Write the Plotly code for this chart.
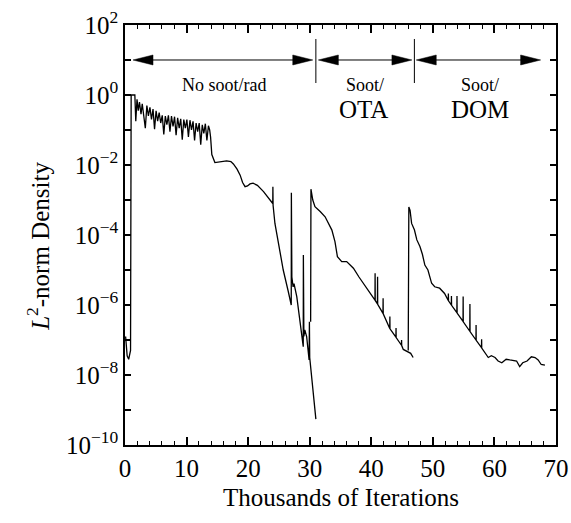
import plotly.graph_objects as go

# ---- data (x in thousands of iterations, y as log10 of L2-norm density) ----
noSootX = [0.1, 0.35, 0.6, 0.9, 1.0, 1.6,
           1.75, 1.95, 2.15, 2.35, 2.6, 2.8, 3.05, 3.3, 3.55, 3.8, 4.05, 4.3, 4.55, 4.8, 5.05,
           5.3, 5.55, 5.8, 6.05, 6.3, 6.55, 6.8, 7.05, 7.3, 7.55, 7.8, 8.05, 8.3, 8.55, 8.8, 9.05,
           9.3, 9.55, 9.8, 10.05, 10.3, 10.55, 10.8, 11.05, 11.3, 11.55, 11.8, 12.05, 12.3, 12.55,
           12.8, 13.05, 13.3, 13.55, 13.75,
           13.9, 14.1, 14.6, 15.4, 16.5, 17.2, 17.6, 18.2, 18.7, 19.1, 19.5, 19.9, 20.3, 20.8,
           21.5, 22.5, 23.3, 24.0, 24.02, 24.05, 24.35, 25.0, 25.7, 26.5, 27.0, 27.02, 27.1, 27.3,
           27.45, 27.9, 28.5, 28.95, 28.97, 29.05, 29.2, 29.5, 29.9, 29.95, 30.0, 31.0]
noSootLog = [-6.9, -7.45, -7.55, -7.3, 0.0, 0.0,
             -0.75, -0.12, -0.45, -0.2, -0.55, -0.25, -0.6, -0.95, -0.3, -0.6, -0.35, -0.7, -0.4,
             -0.98, -0.45, -0.75, -0.5, -0.8, -0.58, -1.13, -0.6, -0.85, -0.58, -1.05, -0.6, -0.9,
             -0.62, -1.15, -0.65, -0.95, -0.68, -1.28, -0.7, -0.95, -0.7, -1.2, -0.72, -1.0, -0.75,
             -1.3, -0.8, -1.05, -0.8, -1.42, -0.85, -1.1, -0.82, -1.3, -0.88, -1.0,
             -1.2, -1.7, -1.93, -1.9, -1.88, -1.9, -1.97, -2.12, -2.29, -2.5, -2.62, -2.6, -2.54,
             -2.52, -2.58, -2.76, -2.93, -3.1, -2.62, -3.15, -3.67, -4.3, -5.0, -5.6, -6.0, -2.79,
             -5.2, -5.48, -5.39, -5.76, -6.5, -7.19, -4.57, -6.9, -6.71, -6.9, -7.57, -6.48, -7.5,
             -9.26]

otaX = [30.15, 30.2, 30.5, 30.85, 31.7, 32.5, 33.6, 34.1, 34.5, 35.2, 36.0, 37.1,
        38.0, 39.0, 40.0, 40.6, 40.62, 40.64, 41.0, 41.02, 41.04, 41.9, 41.92, 41.94, 43.0, 43.02,
        43.04, 44.0, 44.02, 44.04, 44.9, 44.92, 44.94, 45.2, 46.0, 46.4, 46.8]
otaLog = [-6.48, -2.69, -3.0, -3.19, -3.33, -3.48, -3.86, -4.19, -4.62, -4.76, -4.76, -4.95,
          -5.2, -5.45, -5.7, -5.86, -5.09, -5.87, -5.97, -5.19, -5.98, -6.24, -5.81,
          -6.25, -6.67, -6.33, -6.68, -6.92, -6.66, -6.93, -7.15, -7.0, -7.16, -7.27, -7.33, -7.38,
          -7.5]

domX = [46.0, 46.1, 46.3, 46.55, 47.0, 47.4, 47.9, 48.3, 48.7, 49.2, 49.8, 50.3, 51.1, 51.9,
        52.5, 52.52, 52.54, 53.0, 53.02, 53.04, 53.9, 53.92, 53.94, 54.9, 54.92, 54.94, 56.0,
        56.02, 56.04, 57.0, 57.02, 57.04, 57.9, 57.92, 57.94, 59.0, 59.5, 60.1, 60.6, 61.2, 61.9,
        62.5, 63.6, 64.1, 64.6, 65.3, 66.0, 66.6, 67.1, 67.6, 68.2]
domLog = [-7.3, -3.2, -3.3, -3.67, -3.85, -4.14, -4.33, -4.55, -4.86, -5.0, -5.38, -5.48, -5.52,
          -5.67, -5.87, -5.67, -5.88, -6.0, -5.74, -6.01, -6.22, -5.74, -6.23, -6.47, -5.76,
          -6.48, -6.75, -5.97, -6.76, -7.0, -6.57, -7.01, -7.22, -6.98, -7.23, -7.5, -7.45, -7.5,
          -7.6, -7.65, -7.55, -7.57, -7.6, -7.76, -7.65, -7.6, -7.48, -7.5, -7.57, -7.7, -7.72]

xTicks = [0, 10, 20, 30, 40, 50, 60, 70]
yMajorExp = [-10, -8, -6, -4, -2, 0, 2]
yMinorExp = [-9, -7, -5, -3, -1, 1]

# phase annotations
arrowStarts = [1.3, 31.4, 47.3]
arrowEnds = [30.5, 46.6, 67.5]
dividers = [31.0, 47.0]
phaseSmall = ["No soot/rad", "Soot/", "Soot/"]
phaseSmallX = [16.1, 39.0, 57.6]
phaseBig = ["OTA", "DOM"]
phaseBigX = [38.8, 57.6]

FONT = "Liberation Serif, Times New Roman, serif"

fig = go.Figure()
for xs, ls in [(noSootX, noSootLog), (otaX, otaLog), (domX, domLog)]:
    fig.add_trace(go.Scatter(x=xs, y=[10 ** v for v in ls], mode="lines",
                             line=dict(color="black", width=1.3), showlegend=False,
                             hoverinfo="skip"))

def sup_label(k):
    s = str(k).replace("-", "\u2212")
    return f"10<sup>{s}</sup>"

shapes = []
annotations = []
ARROW_Y = 0.9167
HEAD_LEN = 3.25  # x units (~20px)
HEAD_HW = 0.0119  # paper units (~5px)
for a, b in zip(arrowStarts, arrowEnds):
    shapes.append(dict(type="line", xref="x", yref="paper", x0=a + 1, x1=b - 1,
                       y0=ARROW_Y, y1=ARROW_Y, line=dict(color="black", width=1)))
    shapes.append(dict(type="path", xref="x", yref="paper",
                       path=f"M {a},{ARROW_Y} L {a + HEAD_LEN},{ARROW_Y + HEAD_HW} L {a + HEAD_LEN},{ARROW_Y - HEAD_HW} Z",
                       fillcolor="black", line=dict(color="black", width=0.5)))
    shapes.append(dict(type="path", xref="x", yref="paper",
                       path=f"M {b},{ARROW_Y} L {b - HEAD_LEN},{ARROW_Y + HEAD_HW} L {b - HEAD_LEN},{ARROW_Y - HEAD_HW} Z",
                       fillcolor="black", line=dict(color="black", width=0.5)))
for d in dividers:
    shapes.append(dict(type="line", xref="x", yref="paper", x0=d, x1=d, y0=0.8619, y1=0.9667,
                       line=dict(color="black", width=1)))

for t, x in zip(phaseSmall, phaseSmallX):
    annotations.append(dict(text=t, x=x, y=0.3, xref="x", yref="y", showarrow=False,
                            font=dict(family=FONT, size=18, color="black"), yanchor="middle"))
for t, x in zip(phaseBig, phaseBigX):
    annotations.append(dict(text=t, x=x, y=-0.4, xref="x", yref="y", showarrow=False,
                            font=dict(family=FONT, size=25, color="black"), yanchor="middle"))

annotations.append(dict(text="Thousands of Iterations", x=0.5, y=-0.124, xref="paper", yref="paper",
                        showarrow=False, yanchor="middle",
                        font=dict(family=FONT, size=25, color="black")))
annotations.append(dict(text="<i>L</i><sup>2</sup>-norm Density", x=-0.202, y=0.474, xref="paper",
                        yref="paper", showarrow=False, textangle=-90, xanchor="center",
                        yanchor="middle", font=dict(family=FONT, size=25, color="black")))

fig.update_layout(
    width=571, height=523,
    margin=dict(l=125, r=15, t=25, b=78),
    plot_bgcolor="white", paper_bgcolor="white",
    font=dict(family=FONT, size=25, color="black"),
    shapes=shapes, annotations=annotations,
    xaxis=dict(range=[0, 70], tickvals=xTicks, ticks="inside", ticklen=8, tickwidth=1.5,
               tickcolor="black", showline=True, linewidth=1.5, linecolor="black",
               mirror="ticks", showgrid=False, zeroline=False, automargin=False,
               minor=dict(dtick=2, ticks="inside", ticklen=4, tickwidth=1, tickcolor="black",
                          showgrid=False),
               tickfont=dict(family=FONT, size=25, color="black")),
    yaxis=dict(type="log", range=[-10, 2], tickvals=[10 ** k for k in yMajorExp],
               ticktext=[sup_label(k) for k in yMajorExp], automargin=False,
               ticks="inside", ticklen=6, tickwidth=1.5, tickcolor="black", showline=True,
               linewidth=1.5, linecolor="black", mirror="ticks", showgrid=False, zeroline=False,
               minor=dict(tickvals=[10 ** k for k in yMinorExp], ticks="inside", ticklen=6,
                          tickwidth=1.5, tickcolor="black", showgrid=False),
               tickfont=dict(family=FONT, size=25, color="black")),
)

fig.write_html("out.html")
